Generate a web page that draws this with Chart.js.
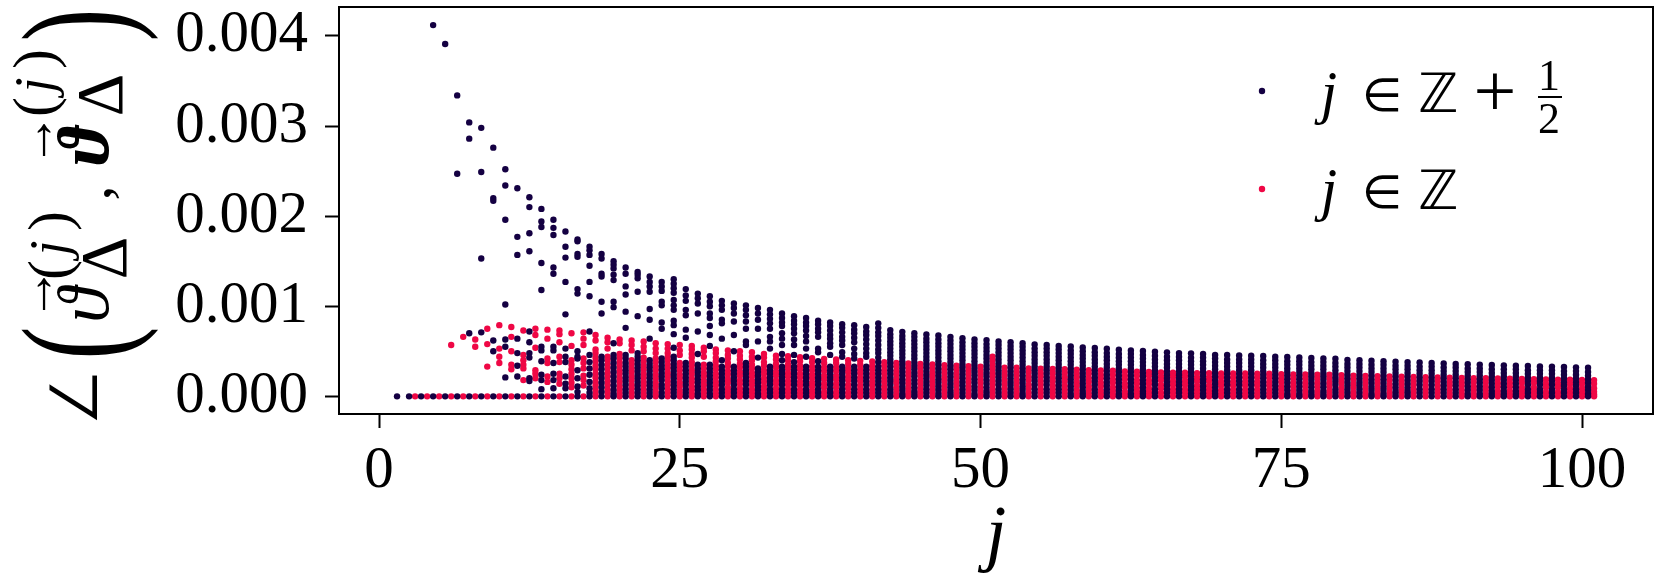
<!DOCTYPE html>
<html lang="en">
<head>
<meta charset="UTF-8">
<title>Angle between vectors against j</title>
<script src="https://cdn.jsdelivr.net/npm/chart.js"></script>
<style>
    body { margin: 0; background: #fff; }
    canvas { display: block; }
</style>
</head>
<body>
<canvas id="angleChart" width="1661" height="582"></canvas>
<script>
const angleUnit = 1e-5;
const xTickValues = [0, 25, 50, 75, 100];
const yTickValues = [0, 0.001, 0.002, 0.003, 0.004];
const seriesNames = ['j \u2208 \u2124 + 1/2', 'j \u2208 \u2124'];

const halfIntegerJ = [1.5,2.5,3.5,4.5,5.5,6.5,7.5,8.5,9.5,10.5,11.5,12.5,13.5,14.5,15.5,16.5,17.5,18.5,19.5,20.5,
    21.5,22.5,23.5,24.5,25.5,26.5,27.5,28.5,29.5,30.5,31.5,32.5,33.5,34.5,35.5,36.5,37.5,38.5,39.5,40.5,
    41.5,42.5,43.5,44.5,45.5,46.5,47.5,48.5,49.5,50.5,51.5,52.5,53.5,54.5,55.5,56.5,57.5,58.5,59.5,60.5,
    61.5,62.5,63.5,64.5,65.5,66.5,67.5,68.5,69.5,70.5,71.5,72.5,73.5,74.5,75.5,76.5,77.5,78.5,79.5,80.5,
    81.5,82.5,83.5,84.5,85.5,86.5,87.5,88.5,89.5,90.5,91.5,92.5,93.5,94.5,95.5,96.5,97.5,98.5,99.5,100.5];

const halfIntegerAngles = [
    [0],[0],[0],[412,0],[391,0],[334,247,0],[304,286,70,0],[298,249,153,71,0],[276,220,217,62,50,0],
    [252,234,196,102,63,55,21,0],[231,177,157,64,48,34,22,0],[221,210,181,161,72,60,48,43,20,17,0],
    [208,194,188,148,118,55,51,39,24,18,8,0],[196,187,179,143,136,55,51,37,25,18,9,0],
    [183,166,154,127,91,53,44,38,22,14,9,0],[174,172,158,155,119,114,50,44,42,29,20,11,5,0],
    [166,162,157,145,127,111,72,46,38,31,24,16,9,4,0],[158,153,136,133,105,92,44,40,35,30,25,20,15,10,5,0],
    [150,146,142,135,129,105,99,59,46,42,37,32,27,22,17,12,7,3,0],
    [143,136,122,113,94,76,46,42,37,33,29,25,21,17,13,8,4,0],
    [138,135,131,116,89,48,44,40,36,32,28,24,20,16,12,8,4,0],
    [133,127,122,116,97,85,64,40,36,32,28,24,20,16,12,8,4,0],
    [127,122,117,105,101,82,75,42,38,34,30,26,22,18,13,9,4,0],
    [130,125,120,115,107,101,96,84,79,69,54,44,40,36,32,28,24,20,16,12,8,4,0],
    [119,112,106,96,90,74,65,37,33,29,25,21,17,13,8,4,0],
    [114,109,103,92,72,47,35,31,27,23,19,15,11,7,3,0],
    [111,105,100,92,87,78,68,56,35,31,27,23,19,15,11,7,3,0],
    [106,101,96,85,81,64,40,33,29,25,21,17,13,8,4,0],
    [103,98,92,83,68,50,33,29,25,21,17,13,8,4,0],
    [101,96,90,83,75,61,57,37,33,29,25,21,17,13,8,4,0],
    [98,92,85,75,61,43,31,27,23,19,15,11,7,3,0],
    [96,91,86,81,75,66,61,53,33,29,25,21,17,13,8,4,0],
    [92,87,82,78,70,64,57,47,40,33,29,25,21,17,13,8,4,0],
    [89,84,80,75,70,63,57,46,38,33,29,25,21,17,13,8,4,0],
    [87,82,78,73,67,61,53,44,33,29,25,21,17,13,8,4,0],
    [84,80,75,71,66,53,49,39,33,29,25,21,17,13,8,4,0],
    [82,78,73,68,64,59,55,46,33,29,25,21,17,13,8,4,0],
    [80,76,71,66,62,57,49,44,33,29,25,21,17,13,8,4,0],
    [79,74,70,65,60,53,47,42,33,29,25,21,17,13,8,4,0],
    [77,72,68,63,58,53,48,44,33,29,25,21,17,13,8,4,0],
    [81,76,71,67,62,57,52,48,43,38,33,29,25,21,17,13,8,4,0],
    [73.5,69,65,61,57,53,49,45,41,37,33,29,25,21,17,13,8,4,0],
    [71.6,67,63,59,55,51,47,43,39,35,31,27,23,19,15,11,7,3,0],
    [70,66,62,58,54,50,46,42,38,34,30,26,22,18,14,10,6,3,0],
    [68.6,64,60,56,52,48,44,40,36,32,28,24,20,16,12,8,4,0],
    [67.5,63,59,55,51,47,43,39,35,31,27,23,19,15,11,7,3,0],
    [66,62,58,54,50,46,42,38,34,30,26,22,18,14,10,6,3,0],
    [64.6,60,56,52,48,44,40,36,32,28,24,20,16,12,8,4,0],
    [63,59,55,51,47,43,39,35,31,27,23,19,15,11,7,3,0],
    [62.4,58,54,50,46,42,38,34,30,26,22,18,14,10,6,3,0],
    [61,57,53,49,45,41,37,33,29,25,21,17,13,8,4,0],
    [60,56,52,48,44,40,36,32,28,24,20,16,12,8,4,0],
    [59,55,51,47,43,39,35,31,27,23,19,15,11,7,3,0],
    [57.6,53,49,45,41,37,33,29,25,21,17,13,8,4,0],
    [57,53,49,45,41,37,33,29,25,21,17,13,8,4,0],
    [56,52,48,44,40,36,32,28,24,20,16,12,8,4,0],
    [55.4,51,47,43,39,35,31,27,23,19,15,11,7,3,0],
    [54.3,50,46,42,38,34,30,26,22,18,14,10,6,3,0],
    [53.6,49,45,41,37,33,29,25,21,17,13,8,4,0],
    [52.8,48,44,40,36,32,28,24,20,16,12,8,4,0],
    [51.7,47,43,39,35,31,27,23,19,15,11,7,3,0],
    [51,47,43,39,35,31,27,23,19,15,11,7,3,0],
    [50.3,46,42,38,34,30,26,22,18,14,10,6,3,0],
    [49.5,45,41,37,33,29,25,21,17,13,8,4,0],
    [48.8,44,40,36,32,28,24,20,16,12,8,4,0],
    [48,44,40,36,32,28,24,20,16,12,8,4,0],
    [47.7,43,39,35,31,27,23,19,15,11,7,3,0],
    [47,43,39,35,31,27,23,19,15,11,7,3,0],
    [46,42,38,34,30,26,22,18,14,10,6,3,0],
    [45.8,41,37,33,29,25,21,17,13,8,4,0],
    [45.4,41,37,33,29,25,21,17,13,8,4,0],
    [45,41,37,33,29,25,21,17,13,8,4,0],
    [44.7,40,36,32,28,24,20,16,12,8,4,0],
    [44,40,36,32,28,24,20,16,12,8,4,0],
    [43.6,39,35,31,27,23,19,15,11,7,3,0],
    [43.2,39,35,31,27,23,19,15,11,7,3,0],
    [42.5,38,34,30,26,22,18,14,10,6,3,0],
    [42.1,38,34,30,26,22,18,14,10,6,3,0],
    [41.7,37,33,29,25,21,17,13,8,4,0],
    [40.5,36,32,28,24,20,16,12,8,4,0],
    [40,36,32,28,24,20,16,12,8,4,0],
    [39.5,35,31,27,23,19,15,11,7,3,0],
    [39,35,31,27,23,19,15,11,7,3,0],
    [38.5,34,30,26,22,18,14,10,6,3,0],
    [38,34,30,26,22,18,14,10,6,3,0],
    [37.5,33,29,25,21,17,13,8,4,0],
    [37,33,29,25,21,17,13,8,4,0],
    [36.5,32,28,24,20,16,12,8,4,0],
    [36,32,28,24,20,16,12,8,4,0],
    [35.6,31,27,23,19,15,11,7,3,0],
    [35.2,31,27,23,19,15,11,7,3,0],
    [34.8,30,26,22,18,14,10,6,3,0],
    [34.4,30,26,22,18,14,10,6,3,0],
    [34,30,26,22,18,14,10,6,3,0],
    [33.6,29,25,21,17,13,8,4,0],
    [33.2,29,25,21,17,13,8,4,0],
    [33,29,25,21,17,13,8,4,0],
    [32.6,28,24,20,16,12,8,4,0],
    [32.2,28,24,20,16,12,8,4,0],
    [31.7,27,23,19,15,11,7,3,0]
];

const integerJ = [3,4,5,6,7,8,9,10,11,12,13,14,15,16,17,18,19,20,21,22,23,24,25,26,27,28,29,30,31,32,33,34,35,36,37,38,39,40,
    41,42,43,44,45,46,47,48,49,50,51,52,53,54,55,56,57,58,59,60,61,62,63,64,65,66,67,68,69,70,
    71,72,73,74,75,76,77,78,79,80,81,82,83,84,85,86,87,88,89,90,91,92,93,94,95,96,97,98,99,100,101];

const integerAngles = [
    [0],[0],[0],[57,0],[66,0],[63,55,0],[75,58,33,0],[79,53,44,37,0],[77,66,50,35,30,0],[73,46,40,35,31,18,0],
    [75,68,54,29,25,20,0],[74,64,42,37,22,16,0],[73,69,60,44,38,25,20,14,0],[70,56,40,35,30,25,20,15,10,0],
    [71,64,57,42,37,31,23,18,12,0],[68,62,52,48,43,39,34,30,25,21,16,12,7,3,0],
    [65,60,53,44,40,35,31,26,22,17,13,8,4,0],[63,59,47,43,38,34,29,25,20,16,11,7,3,0],
    [62,57,51,40,36,31,27,22,18,13,9,4,0],[61,55,50,43,39,34,30,25,21,16,12,7,3,0],
    [59,53,48,42,38,33,29,24,20,15,11,6,2,0],[58,53,48,44,40,35,31,26,22,17,13,8,4,0],
    [57,51,46,37,33,29,24,20,15,11,6,2,0],[56,52,47,43,38,34,29,25,20,16,11,7,3,0],
    [54,50,44,35,31,26,22,17,13,8,4,0],[52,48,43,39,34,30,25,21,16,12,7,3,0],
    [51,46,42,37,33,28,24,19,15,10,6,2,0],[50,45,41,36,32,27,23,18,14,9,5,2,0],
    [49,44,40,35,31,26,22,17,13,8,4,0],[47,43,38,34,29,25,20,16,11,7,3,0],
    [45,41,36,32,27,23,18,14,9,5,2,0],[44.6,40,35,31,26,22,17,13,8,4,0],
    [43.5,39,34,30,25,21,16,12,7,3,0],[42.4,38,33,29,24,20,15,11,6,2,0],
    [41.6,37,32,28,23,19,14,10,5,2,0],[41,37,32,28,23,19,14,10,5,2,0],
    [40,36,31,27,22,18,13,9,4,0],[39.4,35,30,26,21,17,12,8,4,0],
    [38.7,34,30,25,21,16,12,7,3,0],[38,34,29,25,20,16,11,7,3,0],
    [37,33,28,24,19,15,10,6,2,0],[36.5,32,27,23,18,14,9,5,2,0],
    [36,32,27,23,18,14,9,5,2,0],[35.4,31,26,22,17,13,8,4,0],
    [34.6,30,26,21,17,12,8,4,0],[34,30,25,21,16,12,7,3,0],
    [33.5,29,25,20,16,11,7,3,0],[32.8,28,24,19,15,10,6,2,0],
    [44,40,35,31,26,22,17,13,8,4,0],[31.7,27,23,18,14,9,5,2,0],
    [31.7,27,23,18,14,9,5,2,0],[31,27,22,18,13,9,4,0],
    [30.6,26,22,17,13,8,4,0],[30.3,26,21,17,12,8,4,0],
    [30,26,21,17,12,8,4,0],[29.5,25,21,16,12,7,3,0],
    [29,25,20,16,11,7,3,0],[28.8,24,20,15,11,6,2,0],
    [28.4,24,19,15,10,6,2,0],[27.7,23,19,14,10,5,2,0],
    [27.3,23,18,14,9,5,2,0],[27,23,18,14,9,5,2,0],
    [26.6,22,18,13,9,4,0],[26.2,22,17,13,8,4,0],
    [26.2,22,17,13,8,4,0],[25.8,21,17,12,8,4,0],
    [25.8,21,17,12,8,4,0],[25.4,21,16,12,7,3,0],
    [25.4,21,16,12,7,3,0],[25.4,21,16,12,7,3,0],
    [25,21,16,12,7,3,0],[25,21,16,12,7,3,0],
    [24.7,20,16,11,7,3,0],[24.3,20,15,11,6,2,0],
    [24.3,20,15,11,6,2,0],[24,20,15,11,6,2,0],
    [24,20,15,11,6,2,0],[23.6,19,15,10,6,2,0],
    [23,19,14,10,5,2,0],[22.7,18,14,9,5,2,0],
    [22.4,18,14,9,5,2,0],[22,18,13,9,4,0],
    [21.8,17,13,8,4,0],[21.5,17,13,8,4,0],
    [21.2,17,12,8,4,0],[21,17,12,8,4,0],
    [20.7,16,12,7,3,0],[20.5,16,12,7,3,0],
    [20.2,16,11,7,3,0],[20,16,11,7,3,0],
    [19.8,15,11,6,2,0],[19.5,15,11,6,2,0],
    [19.3,15,10,6,2,0],[19,15,10,6,2,0],
    [18.8,14,10,5,2,0],[18.6,14,10,5,2,0],
    [18.4,14,9,5,2,0],[18.2,14,9,5,2,0],
    [18,14,9,5,2,0]
];

const darkColor = '#140042';
const redColor = '#ef0745';
const serif = "'Liberation Serif'";

function toPoints(jValues, angles) {
    return jValues.flatMap((j, i) => angles[i].map(a => ({ x: j, y: a * angleUnit })));
}

function setTicks(values) {
    return scale => { scale.ticks = values.map(v => ({ value: v })); };
}

// tick labels shouldn't push the plot area around
function noLabelPadding(scale) {
    scale.paddingTop = 0;
    scale.paddingBottom = 0;
    scale.paddingLeft = 0;
    scale.paddingRight = 0;
}

// small helper for one piece of math text
function put(ctx, text, font, x, y, opts = {}) {
    ctx.save();
    ctx.font = font;
    ctx.fillStyle = '#000';
    ctx.translate(x, y);
    if (opts.up) ctx.rotate(-Math.PI / 2);
    if (opts.squeeze) ctx.scale(opts.squeeze, 1);
    ctx.textAlign = opts.align || 'center';
    ctx.textBaseline = opts.baseline || 'middle';
    ctx.fillText(text, 0, 0);
    // white outline eats into the glyph, the installed angle sign is too heavy
    if (opts.thin) {
        ctx.strokeStyle = '#fff';
        ctx.lineWidth = opts.thin;
        ctx.strokeText(text, 0, 0);
    }
    ctx.restore();
}

// frame on all four sides
const framePlugin = {
    id: 'frame',
    afterDatasetsDraw(chart) {
        const { ctx, chartArea: a } = chart;
        ctx.save();
        ctx.strokeStyle = '#000';
        ctx.lineWidth = 2;
        ctx.strokeRect(a.left, a.top, a.right - a.left, a.bottom - a.top);
        ctx.restore();
    }
};

// legend and y axis title have stacked math, the built in ones can't do that
const mathPlugin = {
    id: 'mathText',
    afterDraw(chart) {
        const ctx = chart.ctx;
        const up = { up: true };

        // legend
        const rows = [{ color: darkColor, y: 91, base: 112 }, { color: redColor, y: 189, base: 209 }];
        rows.forEach(r => {
            ctx.save();
            ctx.fillStyle = r.color;
            ctx.beginPath();
            ctx.arc(1262, r.y, 3.2, 0, Math.PI * 2);
            ctx.fill();
            ctx.restore();
            put(ctx, 'j', `italic 59px ${serif}`, 1329, r.base, { baseline: 'alphabetic' });
            put(ctx, '\u2208', `46px ${serif}`, 1382, r.base - 1, { baseline: 'alphabetic' });
            put(ctx, '\u2124', `54px 'DejaVu Sans'`, 1438, r.base, { baseline: 'alphabetic' });
        });
        put(ctx, '+', `76px ${serif}`, 1495, 116, { baseline: 'alphabetic' });
        put(ctx, '1', `44px ${serif}`, 1549, 90, { baseline: 'alphabetic' });
        put(ctx, '2', `44px ${serif}`, 1549, 133, { baseline: 'alphabetic' });
        ctx.fillStyle = '#000';
        ctx.fillRect(1538, 96, 24, 2);

        // y axis title, bottom to top
        put(ctx, '\u2220', `68px 'Liberation Sans'`, 79, 397, { up: true, thin: 2 });
        put(ctx, '(', `150px ${serif}`, 87, 343, { up: true, squeeze: 0.66 });
        put(ctx, '\u03D1', `italic 72px ${serif}`, 89, 305, up);
        put(ctx, '\u2192', `54px ${serif}`, 39, 294, up);
        put(ctx, '\u0394', `66px ${serif}`, 109, 258, up);
        put(ctx, '(', `60px ${serif}`, 53, 270, up);
        put(ctx, 'j', `italic 54px ${serif}`, 53, 248, up);
        put(ctx, ')', `60px ${serif}`, 53, 221, up);
        put(ctx, ',', `60px ${serif}`, 94, 193, up);
        put(ctx, '\u03D1', `italic bold 72px ${serif}`, 89, 146, up);
        put(ctx, '\u2192', `54px ${serif}`, 39, 140, up);
        put(ctx, '\u0394', `66px ${serif}`, 105, 95, up);
        put(ctx, '(', `60px ${serif}`, 38, 107, up);
        put(ctx, 'j', `italic 54px ${serif}`, 38, 85, up);
        put(ctx, ')', `60px ${serif}`, 38, 59, up);
        put(ctx, ')', `150px ${serif}`, 87, 25, { up: true, squeeze: 0.66 });
    }
};

new Chart(document.getElementById('angleChart'), {
    type: 'scatter',
    data: {
        datasets: [
            { label: seriesNames[0], data: toPoints(halfIntegerJ, halfIntegerAngles), backgroundColor: darkColor, order: 1 },
            { label: seriesNames[1], data: toPoints(integerJ, integerAngles), backgroundColor: redColor, order: 2 }
        ]
    },
    options: {
        responsive: false,
        animation: false,
        layout: { padding: { top: 7, right: 8, left: 0, bottom: 0 } },
        elements: { point: { radius: 3.2, borderWidth: 0, hoverRadius: 3.2 } },
        plugins: { legend: { display: false }, tooltip: { enabled: false } },
        scales: {
            x: {
                type: 'linear',
                min: -3.325,
                max: 105.9,
                afterFit: s => { s.height = 168; noLabelPadding(s); },
                afterBuildTicks: setTicks(xTickValues),
                grid: { drawOnChartArea: false, tickLength: 14, tickWidth: 2, tickColor: '#000' },
                border: { color: '#000', width: 2 },
                ticks: {
                    color: '#000', maxRotation: 0, autoSkip: false, padding: 8,
                    font: { family: serif, size: 59 },
                    callback: v => String(v)
                },
                title: {
                    display: true, text: 'j', color: '#000',
                    font: { family: serif, size: 74, style: 'italic' },
                    padding: { top: 0, bottom: 0 }
                }
            },
            y: {
                type: 'linear',
                min: -0.000196,
                max: 0.004321,
                afterFit: s => { s.width = 339; noLabelPadding(s); },
                afterBuildTicks: setTicks(yTickValues),
                grid: { drawOnChartArea: false, tickLength: 14, tickWidth: 2, tickColor: '#000' },
                border: { color: '#000', width: 2 },
                ticks: {
                    color: '#000', autoSkip: false, padding: 17,
                    font: { family: serif, size: 59 },
                    callback: v => v.toFixed(3)
                }
            }
        }
    },
    plugins: [framePlugin, mathPlugin]
});
</script>
</body>
</html>
